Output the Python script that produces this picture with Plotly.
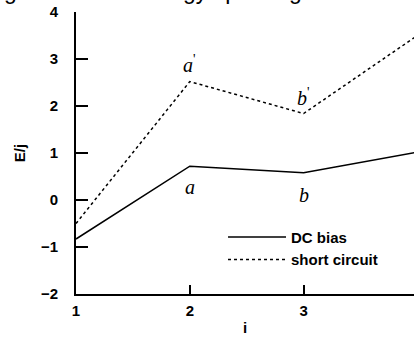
import plotly.graph_objects as go

x_vals = [1, 2, 3, 4]
dc_bias = [-0.83, 0.72, 0.58, 1.02]
short_circuit = [-0.5, 2.52, 1.84, 3.5]
y_ticks = [-2, -1, 0, 1, 2, 3, 4]
x_ticks = [1, 2, 3, 4]

fig = go.Figure()
fig.add_trace(go.Scatter(x=x_vals, y=dc_bias, mode="lines", name="DC bias",
                         line=dict(color="black", width=1.5)))
fig.add_trace(go.Scatter(x=x_vals, y=short_circuit, mode="lines", name="short circuit",
                         line=dict(color="black", width=1.5, dash="dot")))

lab_font = dict(family="Liberation Serif", size=20, color="black", weight="normal")
labels = [
    (2, dc_bias[1], "<i>a</i>", 21),
    (3, dc_bias[2], "<i>b</i>", 22),
    (2, short_circuit[1], "<i>a</i><sup>'</sup>", -18),
    (3, short_circuit[2], "<i>b</i><sup>'</sup>", -17),
]
for xv, yv, t, dy in labels:
    fig.add_annotation(x=xv, y=yv, text=t, showarrow=False, yshift=-dy, font=lab_font)

fig.add_annotation(xref="paper", yref="paper", x=-0.219, y=1.074, xanchor="left", yanchor="middle",
                   text="gure 3 is the energy spectrogram of the", showarrow=False,
                   font=dict(family="Liberation Sans", size=23, color="black", weight="normal"))

bold = dict(family="Liberation Sans", size=15, color="black", weight="bold")
fig.update_layout(
    width=414, height=338,
    margin=dict(l=76, r=0, t=12, b=44),
    paper_bgcolor="white", plot_bgcolor="white",
    font=dict(family="Liberation Sans", size=15, color="black"),
    showlegend=True,
    legend=dict(x=0.435, y=0.26, xanchor="left", yanchor="top", bgcolor="rgba(0,0,0,0)",
                font=bold, tracegroupgap=0, itemwidth=58),
    xaxis=dict(range=[1, 3.97], tickvals=x_ticks, ticks="inside", ticklen=9, tickwidth=1.5,
               tickcolor="black", showline=True, linecolor="black", linewidth=2,
               showgrid=False, zeroline=False, ticklabeloverflow="allow", ticklabelstandoff=2,
               tickfont=bold,
               title=dict(text="i", font=bold, standoff=4)),
    yaxis=dict(range=[-2, 4], tickvals=y_ticks, ticks="inside", ticklen=12, tickwidth=1.5,
               tickcolor="black", showline=True, linecolor="black", linewidth=2,
               showgrid=False, zeroline=False, ticklabelstandoff=13,
               tickfont=bold,
               title=dict(text="E/j", font=bold, standoff=12)),
)

fig.write_html("out.html")
